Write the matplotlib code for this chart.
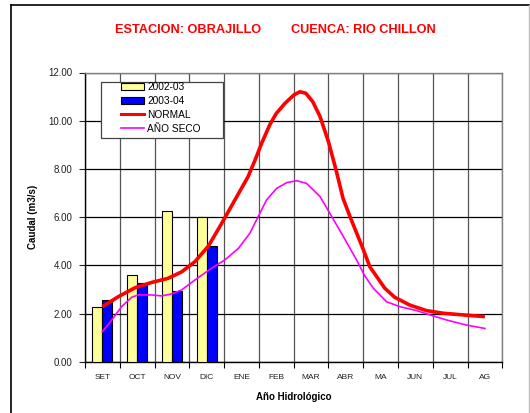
import matplotlib
matplotlib.use("Agg")
import matplotlib.pyplot as plt
from matplotlib.lines import Line2D
from matplotlib.patches import Rectangle, Patch

plt.rcParams['font.family'] = ['Liberation Sans', 'DejaVu Sans']

months = ["SET", "OCT", "NOV", "DIC", "ENE", "FEB", "MAR", "ABR", "MA", "JUN", "JUL", "AG"]
bar_2002_03 = [2.26, 3.58, 6.27, 6.02]
bar_2003_04 = [2.56, 3.28, 2.93, 4.81]

# curves (x in month-index units, SET = 0)
normal_x = [0.0, 0.46, 0.94, 1.42, 1.89, 2.28, 2.66, 3.05, 3.43, 3.81, 4.19, 4.40, 4.59,
            4.82, 5.0, 5.25, 5.51, 5.68, 5.85, 6.05, 6.26, 6.5, 6.72, 6.92, 7.12, 7.49,
            7.69, 8.12, 8.41, 8.84, 9.32, 9.8, 10.47, 11.0]
normal_y = [2.28, 2.70, 3.07, 3.29, 3.46, 3.73, 4.15, 4.80, 5.74, 6.71, 7.68, 8.40, 9.10,
            9.85, 10.30, 10.72, 11.07, 11.20, 11.14, 10.79, 10.17, 9.13, 7.95, 6.78, 6.02, 4.70,
            3.94, 3.05, 2.67, 2.35, 2.12, 2.01, 1.93, 1.87]
seco_x = [0.0, 0.27, 0.55, 0.84, 1.03, 1.42, 1.7, 1.99, 2.28, 2.66, 3.14, 3.52, 3.91,
          4.24, 4.48, 4.72, 5.01, 5.3, 5.59, 5.87, 6.26, 6.54, 6.93, 7.31, 7.55, 7.79,
          8.17, 8.56, 9.04, 9.42, 9.9, 10.47, 11.0]
seco_y = [1.25, 1.73, 2.28, 2.67, 2.77, 2.77, 2.73, 2.81, 2.98, 3.39, 3.88, 4.22, 4.70,
          5.33, 6.02, 6.71, 7.19, 7.43, 7.51, 7.40, 6.85, 6.16, 5.19, 4.22, 3.55, 3.05,
          2.49, 2.28, 2.12, 1.94, 1.73, 1.52, 1.38]
yticks = [0, 2, 4, 6, 8, 10, 12]

W, H = 530, 413
fig = plt.figure(figsize=(W / 100, H / 100), dpi=100)
ax = fig.add_axes([85 / W, 1 - 361.7 / H, 417.3 / W, 289.2 / H])

n = len(months)
bw = 0.288
xs = list(range(len(bar_2002_03)))
ax.bar([x - bw / 2 for x in xs], bar_2002_03, width=bw, color="#FFFF99",
       edgecolor="black", linewidth=0.8, zorder=3, label="2002-03")
ax.bar([x + bw / 2 for x in xs], bar_2003_04, width=bw, color="#0000FF",
       edgecolor="black", linewidth=0.8, zorder=3, label="2003-04")
ax.plot(normal_x, normal_y, color="#FF0000", linewidth=2.6, zorder=4,
        solid_capstyle="butt", solid_joinstyle="round", label="NORMAL")
ax.plot(seco_x, seco_y, color="#FF00FF", linewidth=1.2, zorder=4, label="AÑO SECO")

ax.set_xlim(-0.5, n - 0.5)
ax.set_ylim(0, 12)
ax.set_yticks(yticks)
ax.set_yticklabels([f"{v:.2f}" for v in yticks])
ax.set_xticks(range(n))
ax.set_xticklabels(months)
ax.set_xticks([i - 0.5 for i in range(n + 1)], minor=True)
ax.tick_params(axis="x", which="major", length=0, pad=9, labelsize=6, colors="#222222")
ax.tick_params(axis="x", which="minor", length=4, width=0.8, color="black")
ax.tick_params(axis="y", which="major", length=4, width=0.8, pad=5, labelsize=7,
               colors="#222222")
ax.grid(axis="y", which="major", color="black", linewidth=0.9, zorder=1)
ax.grid(axis="x", which="minor", color="#555555", linewidth=0.9, zorder=1)
ax.set_axisbelow(True)
for s in ["top", "right"]:
    ax.spines[s].set_color("#808080")
    ax.spines[s].set_linewidth(1.0)
for s in ["left", "bottom"]:
    ax.spines[s].set_color("black")
    ax.spines[s].set_linewidth(1.0)

ax.set_ylabel("Caudal (m3/s)", fontsize=7, fontweight="bold", labelpad=10)
ax.set_xlabel("Año Hidrológico", fontsize=7, fontweight="bold", labelpad=8)
ax.yaxis.set_label_coords(-(85 - 38.3) / 417.3, 0.5)

# title (two parts)
fig.text(115 / W, 1 - 30 / H, "ESTACION: OBRAJILLO", color="#FF0000", fontsize=9.2,
         fontweight="bold", ha="left", va="center")
fig.text(291 / W, 1 - 30 / H, "CUENCA: RIO CHILLON", color="#FF0000", fontsize=9.2,
         fontweight="bold", ha="left", va="center")

# legend frame and legend
fig.patches.append(Rectangle((100.7 / W, 1 - 138.3 / H), 122.6 / W, 56.6 / H,
                             transform=fig.transFigure, facecolor="white",
                             edgecolor="#444444", linewidth=0.9, zorder=5))
handles = [Patch(facecolor="#FFFF99", edgecolor="black", linewidth=0.8),
           Patch(facecolor="#0000FF", edgecolor="black", linewidth=0.8),
           Line2D([], [], color="#FF0000", linewidth=2.2),
           Line2D([], [], color="#FF00FF", linewidth=1.2)]
labels = ["2002-03", "2003-04", "NORMAL", "AÑO SECO"]
leg = fig.legend(handles, labels, loc="upper left",
                 bbox_to_anchor=(121 / W, 1 - 82 / H), frameon=False, fontsize=7.3,
                 borderpad=0, handlelength=2.3, handleheight=0.65, handletextpad=0.28,
                 labelspacing=0.38, borderaxespad=0)
leg.set_zorder(6)

# outer frame
fig.add_artist(Line2D([11 / W, 11 / W], [0, 1 - 5 / H], transform=fig.transFigure,
                      color="black", linewidth=1.2))
fig.add_artist(Line2D([11 / W, 529 / W], [1 - 5 / H, 1 - 5 / H], transform=fig.transFigure,
                      color="black", linewidth=1.2))
fig.add_artist(Line2D([529 / W, 529 / W], [0, 1 - 5 / H], transform=fig.transFigure,
                      color="#BBBBBB", linewidth=1.0))

fig.savefig("out.png", dpi=100)
